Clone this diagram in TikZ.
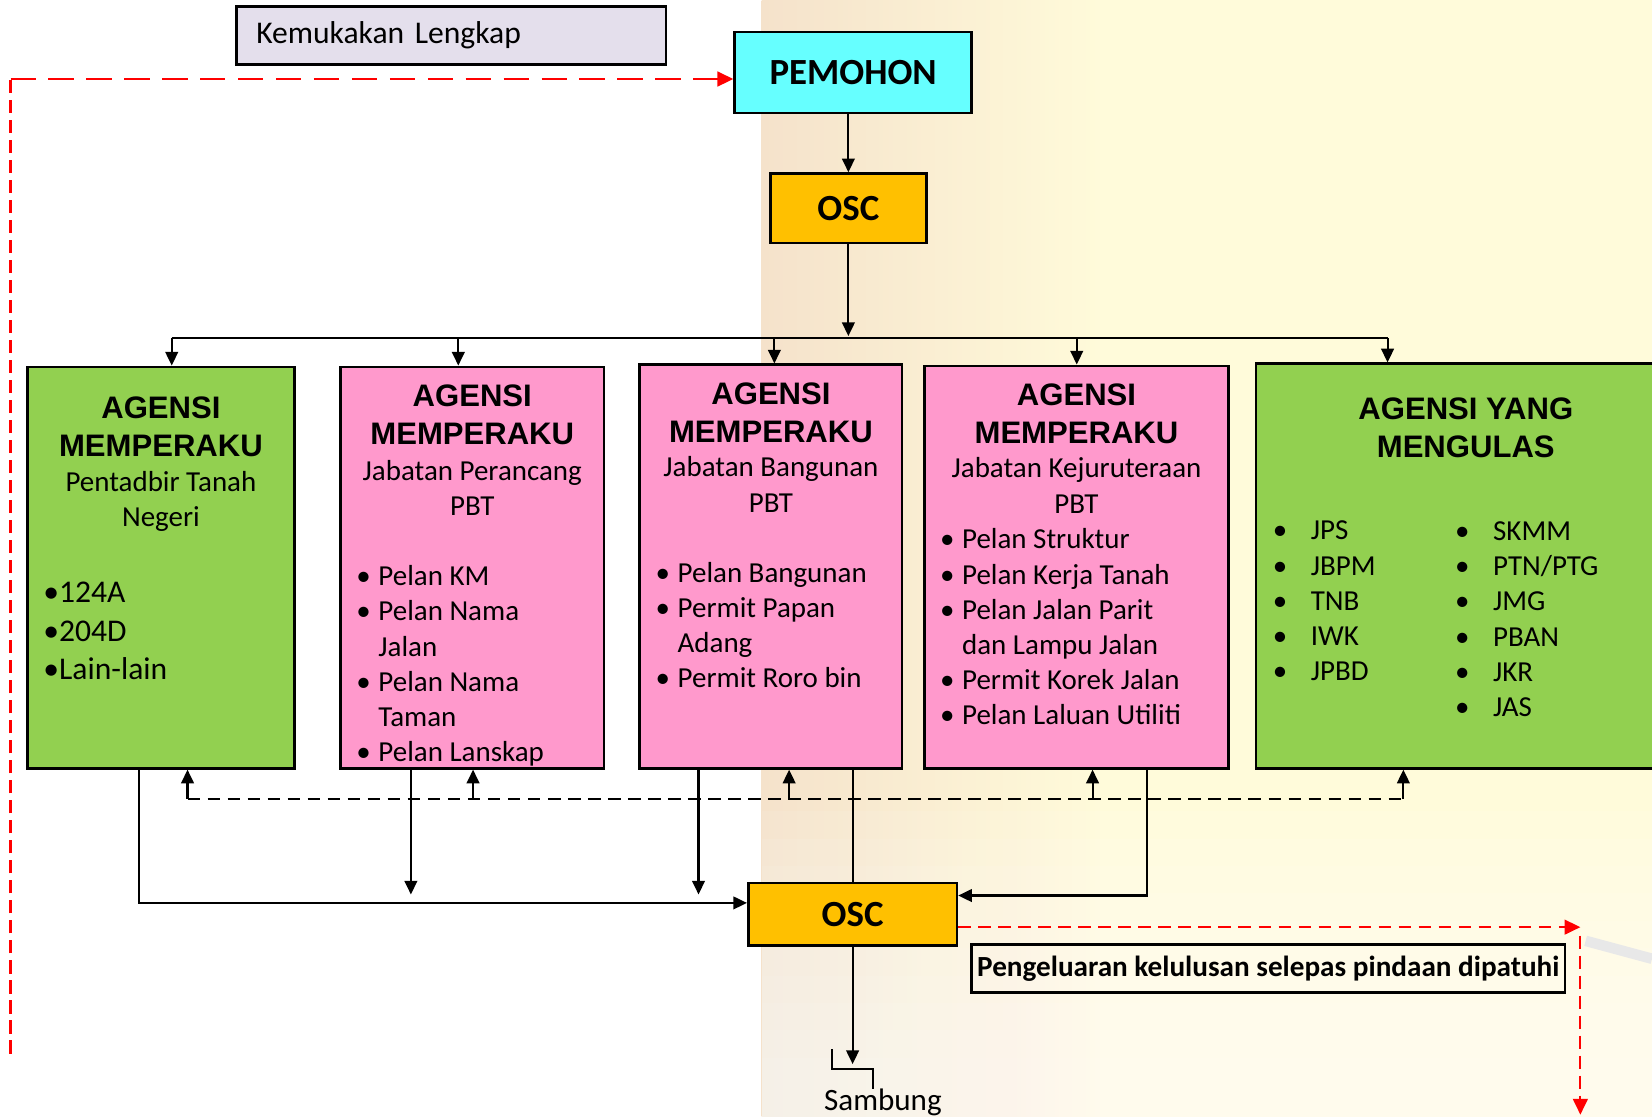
\documentclass[tikz,border=0pt]{standalone}
\usepackage{fontspec}
\setmainfont{Carlito}
\newfontfamily\arialfont{Liberation Sans}
\usetikzlibrary{positioning,arrows.meta}

\definecolor{kemfill}{HTML}{E4DFEC}
\definecolor{pemfill}{HTML}{66FFFF}
\definecolor{oscfill}{HTML}{FFC000}
\definecolor{agreen}{HTML}{92D050}
\definecolor{apink}{HTML}{FF99CC}
\definecolor{wmpeach}{HTML}{F5E2CB}
\definecolor{wmyellow}{HTML}{FFFBDA}

\newcommand{\pbul}{\makebox[21pt][l]{•}}
\newcommand{\pind}{\hspace*{21pt}}
\newcommand{\gbul}{\makebox[36pt][l]{•}}

\begin{document}
\begin{tikzpicture}
	[x=1pt, y=-1pt,
	agbox/.style={rectangle,draw=black,line width=2.5pt,inner sep=0pt,anchor=north west},
	bigtext/.style={font=\bfseries\fontsize{35}{42}\selectfont},
	hdrtext/.style={font=\arialfont\bfseries\fontsize{29.5}{36}\selectfont,align=center,inner sep=0pt,anchor=base},
	subtext/.style={font=\fontsize{27.5}{33.4}\selectfont,align=center,inner sep=0pt,anchor=base},
	itemtext/.style={font=\fontsize{27.5}{33.4}\selectfont,align=left,inner sep=0pt,anchor=base west},
	link/.style={line width=2pt},
	arr/.style={line width=2pt,-{Triangle[length=13pt,width=12pt]}},
	back/.style={line width=2pt,dash pattern=on 12pt off 7pt},
	redback/.style={line width=2pt,red,-{Triangle[length=15pt,width=14pt]}}]

	\useasboundingbox (0,0) rectangle (1568,1060);
	\fill[white] (0,0) rectangle (1568,1060);

	% faded picture behind the right half
	\fill[wmyellow] (723,0) rectangle (1568,1060);
	\shade[left color=wmpeach, right color=wmyellow] (723,0) rectangle (1050,1060);
	\foreach \k in {0,...,9}
		\fill[white,opacity=0.09] (723,770+\k*26) rectangle (1568,1060);
	\draw[line width=10pt, gray!18] (1505,893) -- (1568,910);

	% top part
	\node [agbox,fill=kemfill,minimum width=408pt,minimum height=55pt,
		text width=370pt,inner xsep=19pt,align=left,font=\fontsize{30}{36}\selectfont] (kem) at (223,5) {Kemukakan Lengkap};
	\node [agbox,fill=pemfill,minimum width=225pt,minimum height=77pt,bigtext] (pemohon) at (696,29) {PEMOHON};
	\node [agbox,fill=oscfill,minimum width=148pt,minimum height=66pt,bigtext,
		anchor=north,below=55pt of pemohon,xshift=-4.5pt] (osc1) {OSC};

	% agencies
	\node [agbox,fill=agreen,minimum width=253pt,minimum height=381pt] (ag1) at (25,347) {};
	\node [agbox,fill=apink,minimum width=250pt,minimum height=381pt] (ag2) at (322,347) {};
	\node [agbox,fill=apink,minimum width=249pt,minimum height=383pt] (ag3) at (606,345) {};
	\node [agbox,fill=apink,minimum width=289pt,minimum height=382pt] (ag4) at (876,346) {};
	\node [agbox,fill=agreen,minimum width=400pt,minimum height=384pt] (ag5) at (1191,344) {};

	% (base = last line of each text)
	\node [hdrtext] (h1) at ([yshift=-86pt]ag1.north) {AGENSI\\MEMPERAKU};
	\node [subtext] (s1) at ([yshift=-153pt]ag1.north) {Pentadbir Tanah\\Negeri};
	\node [itemtext,font=\fontsize{30}{36.6}\selectfont] (l1) at ([xshift=16pt,yshift=-298pt]ag1.north west) {•124A\\•204D\\•Lain-lain};

	\node [hdrtext] (h2) at ([yshift=-75pt]ag2.north) {AGENSI\\MEMPERAKU};
	\node [subtext] (s2) at ([yshift=-142pt]ag2.north) {Jabatan Perancang\\PBT};
	\node [itemtext] (l2) at ([xshift=16pt,yshift=-376pt]ag2.north west)
		{\pbul Pelan KM\\\pbul Pelan Nama\\\pind Jalan\\\pbul Pelan Nama\\\pind Taman\\\pbul Pelan Lanskap};

	\node [hdrtext] (h3) at ([yshift=-75pt]ag3.north) {AGENSI\\MEMPERAKU};
	\node [subtext] (s3) at ([yshift=-141pt]ag3.north) {Jabatan Bangunan\\PBT};
	\node [itemtext] (l3) at ([xshift=16pt,yshift=-308pt]ag3.north west)
		{\pbul Pelan Bangunan\\\pbul Permit Papan\\\pind Adang\\\pbul Permit Roro bin};

	\node [hdrtext] (h4) at ([yshift=-75pt]ag4.north) {AGENSI\\MEMPERAKU};
	\node [subtext] (s4) at ([yshift=-141pt]ag4.north) {Jabatan Kejuruteraan\\PBT};
	\node [itemtext] (l4) at ([xshift=16pt,yshift=-342pt]ag4.north west)
		{\pbul Pelan Struktur\\\pbul Pelan Kerja Tanah\\\pbul Pelan Jalan Parit\\\pind dan Lampu Jalan\\\pbul Permit Korek Jalan\\\pbul Pelan Laluan Utiliti};

	\node [hdrtext] (h5) at ([xshift=-1pt,yshift=-90pt]ag5.north) {AGENSI YANG\\MENGULAS};
	\node [itemtext] (l5a) at ([xshift=17pt,yshift=-302pt]ag5.north west)
		{\gbul JPS\\\gbul JBPM\\\gbul TNB\\\gbul IWK\\\gbul JPBD};
	\node [itemtext] (l5b) at ([xshift=190pt,yshift=-336pt]ag5.north west)
		{\gbul SKMM\\\gbul PTN/PTG\\\gbul JMG\\\gbul PBAN\\\gbul JKR\\\gbul JAS};

	% bottom part
	\node [agbox,fill=oscfill,minimum width=198pt,minimum height=59pt,bigtext] (osc2) at (709,837) {OSC};
	\node [agbox,minimum width=563pt,minimum height=46pt,font=\bfseries\fontsize{27.7}{33}\selectfont] (lulus) at (921,895)
		{Pengeluaran kelulusan selepas pindaan dipatuhi};
	\node [inner sep=0pt,anchor=base,font=\fontsize{29.5}{35}\selectfont] (sambung) at (838,1054) {Sambung};

	% connectors
	\draw [arr] (osc1.north |- pemohon.south) -- (osc1.north);
	\foreach \x [count=\i] in {163,435,735,1022,1317}
		\coordinate (bus\i) at (\x,321);
	\draw [arr,shorten >=2pt] (osc1.south) -- (osc1.south |- bus1);
	\draw [link] (bus1) -- (bus5);
	\foreach \i in {1,...,5}
		\draw [arr] (bus\i) -- (bus\i |- ag\i.north);

	\foreach \x [count=\i] in {178,449,749,1037,1332}
		\coordinate (ret\i) at (\x,758);
	\draw [back] (ret1) -- (ret5);
	\foreach \i in {1,...,5}
		\draw [arr] (ret\i) -- (ret\i |- ag\i.south);

	\coordinate (out1) at (132,857);
	\coordinate (out2) at (390,849);
	\coordinate (out3) at (663,849);
	\coordinate (out4) at (1089,850);
	\draw [arr] (out1 |- ag1.south) -- (out1) -- (out1 -| osc2.west);
	\draw [arr] (out2 |- ag2.south) -- (out2);
	\draw [arr] (out3 |- ag3.south) -- (out3);
	\draw [link] (osc2.north |- ag3.south) -- (osc2.north);
	\draw [arr] (out4 |- ag4.south) -- (out4) -- (out4 -| osc2.east);

	\coordinate (next) at (806,1010);
	\draw [arr] (osc2.south) -- (osc2.south |- next);
	\draw [link] ([xshift=-9pt]sambung.north) -- ++(0,-19) -- ++(-39,0) -- ++(0,-19);

	% red return lines
	\coordinate (redA) at (10,1000);
	\coordinate (redB) at (10,75);
	\draw [line width=2pt,red,dash pattern=on 12.5pt off 6.5pt] (redA) -- (redB);
	\draw [redback,dash pattern=on 24pt off 12pt] (redB) -- (redB -| pemohon.west);
	\coordinate (redC) at (1500,880);
	\coordinate (redD) at (1500,1058);
	\draw [redback,dash pattern=on 12pt off 7pt] (redC -| osc2.east) -- (redC);
	\draw [redback,dash pattern=on 12.5pt off 6.5pt] ([yshift=-8pt]redC) -- (redD);

\end{tikzpicture}
\end{document}
